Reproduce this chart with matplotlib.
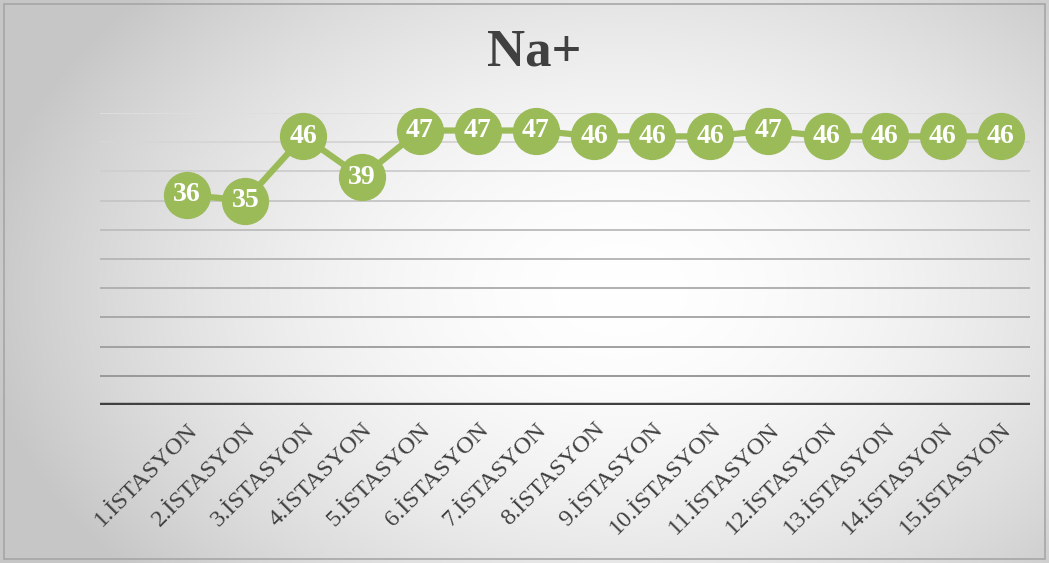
import numpy as np
import matplotlib
matplotlib.use("Agg")
import matplotlib.pyplot as plt
from matplotlib.patches import Rectangle

stations = [f"{i}.İSTASYON" for i in range(1, 16)]
na_values = [36, 35, 46, 39, 47, 47, 47, 46, 46, 46, 47, 46, 46, 46, 46]
y_ticks = list(range(0, 55, 5))

green = "#9bbb59"
text_col = "#404040"

fig = plt.figure(figsize=(10.49, 5.63), dpi=100)

# radial gradient background
bg = fig.add_axes([0, 0, 1, 1], zorder=0)
xx, yy = np.meshgrid(np.linspace(0, 1049, 525), np.linspace(0, 563, 282))
r = np.sqrt(((xx - 620) / 640) ** 2 + ((yy - 290) / 440) ** 2)
shade = 1.0 - 0.22 * np.clip(r, 0, 1) ** 1.8
bg.imshow(np.dstack([shade] * 3), extent=[0, 1049, 563, 0], aspect="auto", interpolation="bilinear")
bg.add_patch(Rectangle((4, 4), 1041, 555, fill=False, edgecolor="#a6a6a6", lw=1.2))
bg.set_xlim(0, 1049)
bg.set_ylim(563, 0)
bg.axis("off")

ax = fig.add_axes([100 / 1049, (563 - 405) / 563, 930 / 1049, (405 - 113) / 563], zorder=1)
ax.patch.set_alpha(0)

x = np.arange(len(stations))
for k, t in enumerate(y_ticks[1:]):
    c = 0.6 + 0.27 * k / (len(y_ticks) - 2)
    ax.axhline(t, color=(c, c, c), lw=1.4, zorder=1)
ax.axhline(0, color="#404040", lw=3.2, zorder=2)

ax.plot(x, na_values, color=green, lw=4.5, marker="o", ms=33,
        markerfacecolor=green, markeredgecolor=green, zorder=3, clip_on=False)
for xi, v in zip(x, na_values):
    ax.text(xi, v, str(v), color="white", fontsize=20, fontweight="bold",
            family="Liberation Serif", ha="center", va="center", zorder=4)

ax.set_xlim(-1.5, 14.5)
ax.set_ylim(0, 50)
ax.set_yticks([])
ax.set_xticks(x)
ax.set_xticklabels(stations, rotation=45, ha="right", va="top", rotation_mode="anchor",
                   fontsize=17.5, family="Liberation Serif", color=text_col)
ax.tick_params(axis="x", length=0, pad=10)
for s in ax.spines.values():
    s.set_visible(False)

fig.text(534 / 1049, 1 - 52 / 563, "Na+", ha="center", va="center", fontsize=38,
         fontweight="bold", family="Liberation Serif", color=text_col)

fig.savefig("out.png", dpi=100)
